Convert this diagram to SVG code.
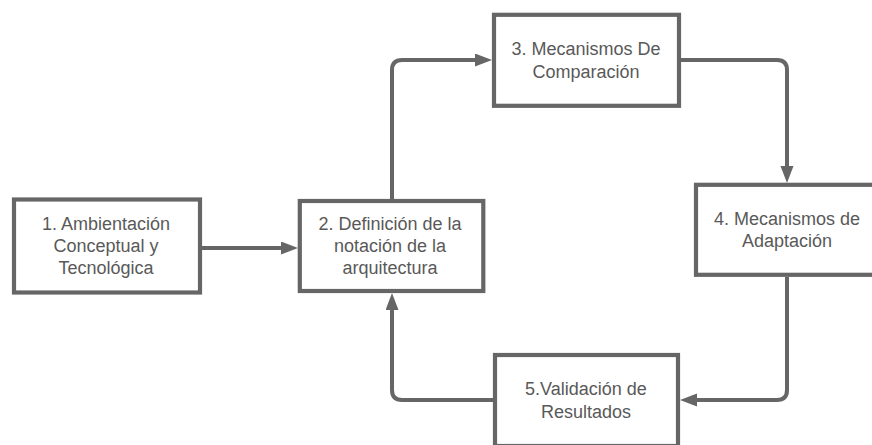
<svg xmlns="http://www.w3.org/2000/svg" width="872" height="445" viewBox="0 0 872 445">
<style>
.box{fill:#ffffff;stroke:#666666;stroke-width:4.2}
.lbl{font-family:"Liberation Sans",Arial,sans-serif;font-size:18px;fill:#595959;text-anchor:middle}
.con{fill:none;stroke:#666666;stroke-width:4}
</style>
<defs>
<marker id="ah" markerUnits="userSpaceOnUse" markerWidth="18" markerHeight="14" refX="3" refY="6.5" orient="auto">
<path d="M0,0 L17,6.5 L0,13 z" fill="#666666"/>
</marker>
</defs>
<rect width="872" height="445" fill="#ffffff"/>
<g id="connectors">
<path class="con" d="M201,248 H284" marker-end="url(#ah)"/>
<path class="con" d="M392,199 V70 Q392,60 402,60 H478" marker-end="url(#ah)"/>
<path class="con" d="M681,60 H777 Q787,60 787,70 V169" marker-end="url(#ah)"/>
<path class="con" d="M787,277 V390 Q787,400 777,400 H694" marker-end="url(#ah)"/>
<path class="con" d="M493,400 H402 Q392,400 392,390 V307" marker-end="url(#ah)"/>
</g>
<g id="node1">
<rect class="box" x="14" y="199.5" width="186" height="93"/>
<text class="lbl" x="106" y="230">1. Ambientación</text>
<text class="lbl" x="106" y="252">Conceptual y</text>
<text class="lbl" x="106" y="274">Tecnológica</text>
</g>
<g id="node2">
<rect class="box" x="299.8" y="201" width="183.5" height="90"/>
<text class="lbl" x="390" y="230">2. Definición de la</text>
<text class="lbl" x="390" y="252">notación de la</text>
<text class="lbl" x="390" y="274">arquitectura</text>
</g>
<g id="node3">
<rect class="box" x="494" y="14.8" width="185" height="91"/>
<text class="lbl" x="586" y="55">3. Mecanismos De</text>
<text class="lbl" x="586" y="78">Comparación</text>
</g>
<g id="node4">
<rect class="box" x="696" y="184.8" width="184" height="90"/>
<text class="lbl" x="787" y="225">4. Mecanismos de</text>
<text class="lbl" x="787" y="247">Adaptación</text>
</g>
<g id="node5">
<rect class="box" x="495" y="355" width="183" height="91"/>
<text class="lbl" x="586" y="395">5.Validación de</text>
<text class="lbl" x="586" y="418">Resultados</text>
</g>
</svg>
